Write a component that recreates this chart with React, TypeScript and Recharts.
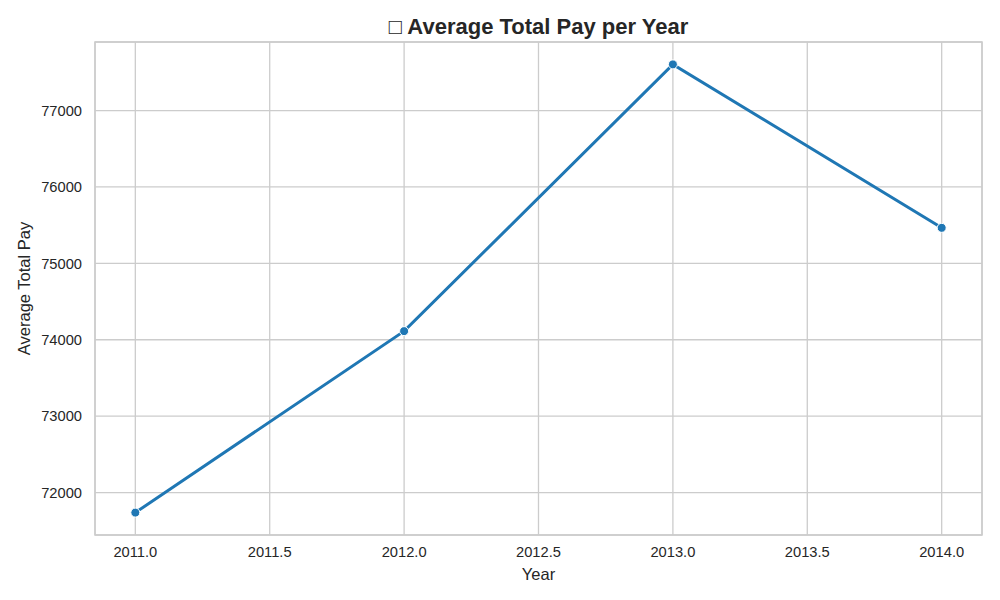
import {
  LineChart, Line, XAxis, YAxis, CartesianGrid, ReferenceArea,
} from 'recharts'

const YEARS = [2011, 2012, 2013, 2014]
const AVG_PAY = [71738, 74113, 77604, 75465]
const X_TICKS = [2011, 2011.5, 2012, 2012.5, 2013, 2013.5, 2014]
const Y_TICKS = [72000, 73000, 74000, 75000, 76000, 77000]

const LINE_COLOR = '#1f77b4'
const GRID_COLOR = '#cccccc'
const TEXT_COLOR = '#262626'
const FONT = '"Liberation Sans", Arial, sans-serif'

const X_DOMAIN: [number, number] = [2010.85, 2014.15]
const Y_DOMAIN: [number, number] = [71445, 77897]

const data = YEARS.map((year, i) => ({ year, pay: AVG_PAY[i] }))

function YLabel(props: { viewBox?: { x: number; y: number; width: number; height: number } }) {
  const vb = props.viewBox ?? { x: 0, y: 0, width: 0, height: 0 }
  const cx = 24
  const cy = vb.y + vb.height / 2
  return (
    <text x={cx} y={cy} transform={`rotate(-90 ${cx} ${cy})`} textAnchor="middle"
      dominantBaseline="central" fontSize={16.5} fill={TEXT_COLOR} fontFamily={FONT}>
      Average Total Pay
    </text>
  )
}

export default function App() {
  return (
    <div style={{ position: 'relative', width: 1000, height: 600, margin: -8, background: '#fff', fontFamily: FONT }}>
      <div style={{
        position: 'absolute', left: 95, width: 887, top: 13, textAlign: 'center',
        fontSize: 22, lineHeight: '28px', fontWeight: 700, color: TEXT_COLOR,
      }}>
        □ Average Total Pay per Year
      </div>
      <LineChart width={1000} height={600} data={data}
        margin={{ top: 42, right: 18, bottom: 0, left: 0 }}>
        <CartesianGrid stroke={GRID_COLOR} strokeWidth={1.3} />
        <XAxis
          dataKey="year" type="number" domain={X_DOMAIN} ticks={X_TICKS}
          tickFormatter={(v: number) => v.toFixed(1)}
          axisLine={false} tickLine={false} tickSize={0} tickMargin={12} height={65}
          tick={{ fill: TEXT_COLOR, fontSize: 14.7, fontFamily: FONT }}
          allowDataOverflow
          label={{ value: 'Year', position: 'insideBottom', offset: 20, fill: TEXT_COLOR, fontSize: 16.5, fontFamily: FONT }}
        />
        <YAxis
          type="number" domain={Y_DOMAIN} ticks={Y_TICKS}
          axisLine={false} tickLine={false} tickSize={0} tickMargin={13} width={95}
          tick={{ fill: TEXT_COLOR, fontSize: 14.7, fontFamily: FONT }}
          allowDataOverflow
          label={<YLabel />}
        />
        <ReferenceArea x1={X_DOMAIN[0]} x2={X_DOMAIN[1]} y1={Y_DOMAIN[0]} y2={Y_DOMAIN[1]}
          fill="none" fillOpacity={0} stroke={GRID_COLOR} strokeWidth={1.6} ifOverflow="visible" />
        <Line
          dataKey="pay" stroke={LINE_COLOR} strokeWidth={3} isAnimationActive={false}
          dot={{ r: 4.5, fill: LINE_COLOR, stroke: '#fff', strokeWidth: 1 }}
          activeDot={false}
        />
      </LineChart>
    </div>
  )
}
